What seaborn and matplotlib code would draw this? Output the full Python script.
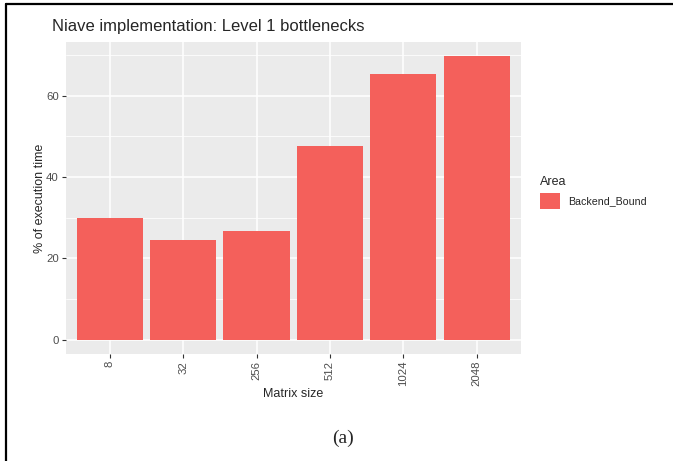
"""Balkendiagramm: Level-1-Bottlenecks der naiven Implementierung."""

import matplotlib

matplotlib.use("Agg")

import matplotlib.pyplot as plt
import pandas as pd
import seaborn as sns
from matplotlib.lines import Line2D
from matplotlib.ticker import MultipleLocator

matrix_sizes = ["8", "32", "256", "512", "1024", "2048"]
backend_bound = [30.0, 24.6, 26.8, 47.7, 65.4, 69.7]
area_labels = ["Backend_Bound"] * len(matrix_sizes)

BAR_COLOR = "#F4605B"
PANEL_BG = "#EBEBEB"
TEXT_GREY = "#4D4D4D"

plot_df = pd.DataFrame({"size": matrix_sizes, "pct": backend_bound, "Area": area_labels})

sns.set_style("white")
plt.rcParams["font.family"] = ["Liberation Sans", "DejaVu Sans"]

W, H = 673, 461
fig = plt.figure(figsize=(W / 100, H / 100), dpi=100)
ax = fig.add_axes([65.7 / W, 1 - 354 / H, (520.7 - 65.7) / W, (354 - 42) / H])

sns.barplot(data=plot_df, x="size", y="pct", hue="Area", palette=[BAR_COLOR],
            width=0.9, saturation=1, linewidth=0, ax=ax, zorder=3)

ax.set_facecolor(PANEL_BG)
for spine in ax.spines.values():
    spine.set_visible(False)

ymax = max(backend_bound)
ax.set_ylim(-0.05 * ymax, 1.05 * ymax)
ax.set_xlim(-0.6, len(matrix_sizes) - 0.4)
ax.yaxis.set_major_locator(MultipleLocator(20))
ax.yaxis.set_minor_locator(MultipleLocator(10))
ax.grid(True, which="major", color="white", linewidth=1.1, zorder=0)
ax.grid(True, which="minor", axis="y", color="white", linewidth=0.55, zorder=0)
ax.set_axisbelow(True)

ax.tick_params(axis="both", which="major", bottom=True, left=True, length=2.75, width=0.8,
               color="#333333", labelcolor=TEXT_GREY, labelsize=8.2, pad=2.2)
ax.tick_params(axis="y", which="minor", left=False, length=0)
ax.tick_params(axis="x", labelrotation=90)

ax.set_xlabel("Matrix size", fontsize=9, labelpad=1)
ax.set_ylabel("% of execution time", fontsize=9, labelpad=0)

fig.text(52 / W, 1 - 27 / H, "Niave implementation: Level 1 bottlenecks",
         fontsize=12, ha="left", va="center")

legend = ax.legend(loc="upper left", bbox_to_anchor=(540 / W, 1 - 176 / H),
                   bbox_transform=fig.transFigure, frameon=False, title="Area",
                   fontsize=7.7, title_fontsize=9, handlelength=1.85, handleheight=1.85,
                   handletextpad=0.75, borderpad=0, borderaxespad=0)
legend._legend_box.align = "left"

fig.text(343 / W, 1 - 438 / H, "(a)", fontsize=14, ha="center", va="center",
         family=["Liberation Serif", "DejaVu Serif"])

# Rahmen links und oben
fig.add_artist(Line2D([5.5 / W, 5.5 / W], [0, 1 - 4.5 / H], transform=fig.transFigure,
                      color="black", linewidth=1.6))
fig.add_artist(Line2D([5.5 / W, 1], [1 - 4.5 / H, 1 - 4.5 / H], transform=fig.transFigure,
                      color="black", linewidth=1.6))

fig.savefig("out.png", dpi=100)
plt.close(fig)
